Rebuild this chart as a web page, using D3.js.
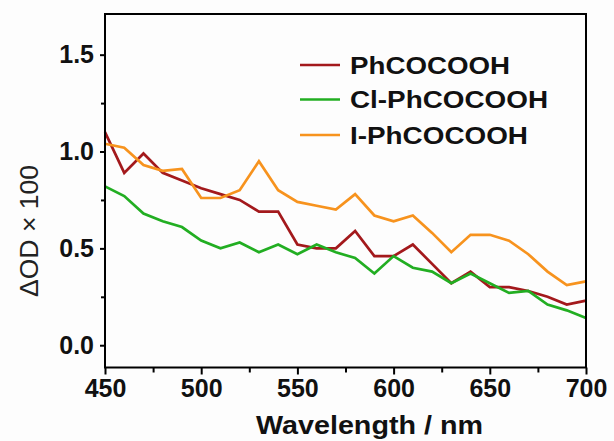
<!DOCTYPE html>
<html>
<head>
<meta charset="utf-8">
<script src="https://cdn.jsdelivr.net/npm/d3@7"></script>
<style>
  body { margin: 0; background: #fdfdfd; }
  svg { display: block; font-family: "Liberation Sans", Arial, sans-serif; }
</style>
</head>
<body>
<svg id="chart" width="614" height="441"></svg>
<script>
"use strict";

const wavelengths = [450, 460, 470, 480, 490, 500, 510, 520, 530, 540, 550, 560, 570,
  580, 590, 600, 610, 620, 630, 640, 650, 660, 670, 680, 690, 700];

const phcocooh = [1.10, 0.89, 0.99, 0.89, 0.85, 0.81, 0.78, 0.75, 0.69, 0.69, 0.52, 0.50, 0.50,
  0.59, 0.46, 0.46, 0.52, 0.42, 0.32, 0.38, 0.30, 0.30, 0.28, 0.25, 0.21, 0.23];
const clPhcocooh = [0.82, 0.77, 0.68, 0.64, 0.61, 0.54, 0.50, 0.53, 0.48, 0.52, 0.47, 0.52, 0.48,
  0.45, 0.37, 0.46, 0.40, 0.38, 0.32, 0.37, 0.32, 0.27, 0.28, 0.21, 0.18, 0.14];
const iPhcocooh = [1.04, 1.02, 0.93, 0.90, 0.91, 0.76, 0.76, 0.80, 0.95, 0.80, 0.74, 0.72, 0.70,
  0.78, 0.67, 0.64, 0.67, 0.58, 0.48, 0.57, 0.57, 0.54, 0.47, 0.38, 0.31, 0.33];

const seriesNames = ["PhCOCOOH", "Cl-PhCOCOOH", "I-PhCOCOOH"];
const xTicks = [450, 500, 550, 600, 650, 700];
const yTicks = [0.0, 0.5, 1.0, 1.5];

const colors = ["#a3191c", "#22ae22", "#f7931e"];
const allSeries = [phcocooh, clPhcocooh, iPhcocooh];

const svg = d3.select("#chart");
const plotLeft = 105, plotRight = 586, plotTop = 14, plotBottom = 367.5;

const xScale = d3.scaleLinear().domain([450, 700]).range([plotLeft, plotRight]);
const yScale = d3.scaleLinear().domain([-0.115, 1.71]).range([plotBottom, plotTop]);

// lines
const line = d3.line()
  .x((d, i) => xScale(wavelengths[i]))
  .y(d => yScale(d));

allSeries.forEach((s, k) => {
  svg.append("path")
    .datum(s)
    .attr("fill", "none")
    .attr("stroke", colors[k])
    .attr("stroke-width", 2.7)
    .attr("stroke-linejoin", "miter")
    .attr("d", line);
});

// frame
svg.append("rect")
  .attr("x", plotLeft).attr("y", plotTop)
  .attr("width", plotRight - plotLeft).attr("height", plotBottom - plotTop)
  .attr("fill", "none").attr("stroke", "#000").attr("stroke-width", 2);

// minor ticks
const xMinor = d3.range(475, 700, 50);
svg.append("g")
  .attr("transform", `translate(0, ${plotBottom})`)
  .call(d3.axisBottom(xScale).tickValues(xMinor).tickSize(5).tickFormat(""))
  .call(g => g.select(".domain").remove())
  .call(g => g.selectAll("line").attr("stroke-width", 2));

const yMinor = [0.25, 0.75, 1.25];
svg.append("g")
  .attr("transform", `translate(${plotLeft}, 0)`)
  .call(d3.axisLeft(yScale).tickValues(yMinor).tickSize(4).tickFormat(""))
  .call(g => g.select(".domain").remove())
  .call(g => g.selectAll("line").attr("stroke-width", 2));

// major axes
svg.append("g")
  .attr("transform", `translate(0, ${plotBottom})`)
  .call(d3.axisBottom(xScale).tickValues(xTicks).tickSize(7).tickPadding(5).tickFormat(d3.format("d")))
  .call(g => g.select(".domain").remove())
  .call(g => g.selectAll("line").attr("stroke-width", 2))
  .call(g => g.selectAll("text")
    .attr("font-size", 25).attr("font-weight", "bold").attr("fill", "#111")
    .attr("font-family", "Liberation Sans, Arial, sans-serif"));

svg.append("g")
  .attr("transform", `translate(${plotLeft}, 0)`)
  .call(d3.axisLeft(yScale).tickValues(yTicks).tickSize(5).tickPadding(6).tickFormat(d3.format(".1f")))
  .call(g => g.select(".domain").remove())
  .call(g => g.selectAll("line").attr("stroke-width", 2))
  .call(g => g.selectAll("text")
    .attr("font-size", 25).attr("font-weight", "bold").attr("fill", "#111")
    .attr("font-family", "Liberation Sans, Arial, sans-serif"));

// axis titles
svg.append("text")
  .attr("x", (plotLeft + plotRight) / 2 + 24)
  .attr("y", 434)
  .attr("text-anchor", "middle")
  .attr("font-size", 25)
  .attr("font-weight", "bold")
  .attr("fill", "#111")
  .attr("textLength", 227)
  .attr("lengthAdjust", "spacingAndGlyphs")
  .text("Wavelength / nm");

svg.append("text")
  .attr("transform", "translate(38, 231) rotate(-90)")
  .attr("text-anchor", "middle")
  .attr("font-size", 25)
  .attr("fill", "#222")
  .attr("textLength", 132)
  .attr("lengthAdjust", "spacingAndGlyphs")
  .text("\u0394OD \u00d7 100");

// legend
const legendY = [65, 99.5, 135];
const legendW = [160, 198, 178];
seriesNames.forEach((name, k) => {
  svg.append("line")
    .attr("x1", 300).attr("x2", 340)
    .attr("y1", legendY[k]).attr("y2", legendY[k])
    .attr("stroke", colors[k]).attr("stroke-width", 2.7);
  svg.append("text")
    .attr("x", 350)
    .attr("y", legendY[k] + 8.5)
    .attr("font-size", 23)
    .attr("font-weight", "bold")
    .attr("fill", "#111")
    .attr("textLength", legendW[k])
    .attr("lengthAdjust", "spacingAndGlyphs")
    .text(name);
});
</script>
</body>
</html>
